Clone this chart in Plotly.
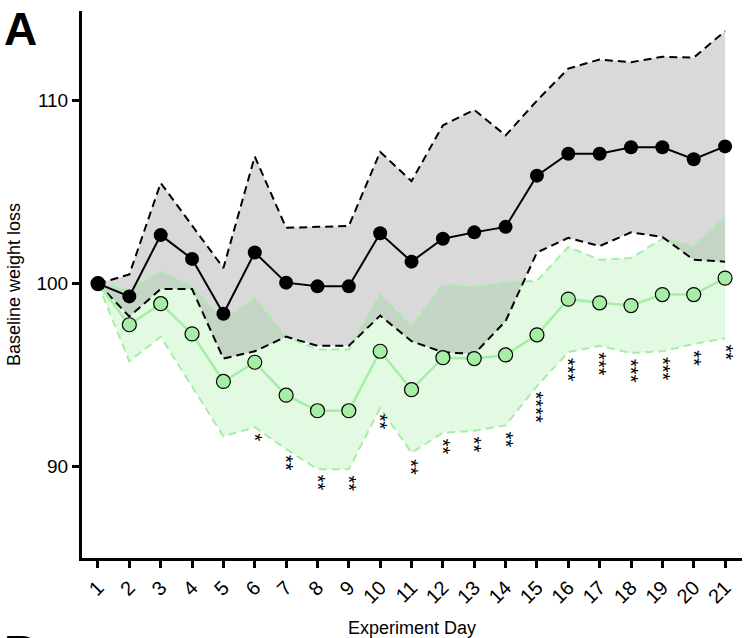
import plotly.graph_objects as go

days = list(range(1, 22))
day_labels = [str(d) for d in days]

ctrl_mean = [100, 99.3, 102.65, 101.35, 98.35, 101.7, 100.05, 99.85, 99.85, 102.75, 101.2,
             102.45, 102.8, 103.1, 105.9, 107.1, 107.1, 107.45, 107.45, 106.8, 107.5]
ctrl_upper = [100, 100.5, 105.5, 103.2, 100.85, 106.95, 103.05, 103.1, 103.15, 107.2, 105.6,
              108.65, 109.5, 108.1, 110.0, 111.75, 112.25, 112.1, 112.4, 112.35, 113.8]
ctrl_lower = [100, 98.2, 99.7, 99.7, 95.9, 96.3, 97.1, 96.6, 96.6, 98.25, 96.85,
              96.25, 96.15, 97.95, 101.7, 102.5, 102.05, 102.8, 102.55, 101.3, 101.2]

trt_mean = [100, 97.75, 98.9, 97.25, 94.65, 95.7, 93.9, 93.05, 93.05, 96.3, 94.2,
            95.95, 95.9, 96.1, 97.2, 99.15, 98.95, 98.8, 99.4, 99.4, 100.3]
trt_upper = [100, 99.65, 100.65, 99.85, 97.95, 99.2, 97.1, 96.4, 96.4, 99.4, 97.65,
             99.95, 99.8, 100.05, 100.15, 102.0, 101.3, 101.4, 102.45, 102.05, 103.6]
trt_lower = [100, 95.75, 97.1, 94.4, 91.65, 92.15, 90.95, 89.85, 89.85, 93.2, 90.75,
             91.85, 91.95, 92.25, 94.4, 96.25, 96.6, 96.2, 96.3, 96.7, 97.0]

significance = ["", "", "", "", "", "*", "**", "**", "**", "**", "**",
                "**", "**", "**", "****", "***", "***", "***", "***", "**", "**"]

y_ticks = [90, 100, 110]

GREEN_FILL = "#e2f9e2"
GRAY_FILL = "rgba(128,128,128,0.3)"
GREEN_LINE = "#a6eea6"
FONT = "Liberation Sans, Arial, sans-serif"

fig = go.Figure()

# green band (opaque)
fig.add_trace(go.Scatter(x=days, y=trt_lower, mode="lines", line=dict(width=0),
                         showlegend=False, hoverinfo="skip"))
fig.add_trace(go.Scatter(x=days, y=trt_upper, mode="lines", line=dict(width=0),
                         fill="tonexty", fillcolor=GREEN_FILL, showlegend=False, hoverinfo="skip"))
# gray band (translucent, on top)
fig.add_trace(go.Scatter(x=days, y=ctrl_lower, mode="lines", line=dict(width=0),
                         showlegend=False, hoverinfo="skip"))
fig.add_trace(go.Scatter(x=days, y=ctrl_upper, mode="lines", line=dict(width=0),
                         fill="tonexty", fillcolor=GRAY_FILL, showlegend=False, hoverinfo="skip"))

# dashed band edges
for ys in (trt_upper, trt_lower):
    fig.add_trace(go.Scatter(x=days, y=ys, mode="lines",
                             line=dict(color=GREEN_LINE, width=2, dash="8px,5px"),
                             showlegend=False, hoverinfo="skip"))
for ys in (ctrl_upper, ctrl_lower):
    fig.add_trace(go.Scatter(x=days, y=ys, mode="lines",
                             line=dict(color="black", width=2, dash="8px,5px"),
                             showlegend=False, hoverinfo="skip"))

# means
fig.add_trace(go.Scatter(x=days, y=trt_mean, mode="lines+markers",
                         line=dict(color=GREEN_LINE, width=2.5),
                         marker=dict(size=14, color=GREEN_LINE, line=dict(color="black", width=1.2)),
                         showlegend=False))
fig.add_trace(go.Scatter(x=days, y=ctrl_mean, mode="lines+markers",
                         line=dict(color="black", width=2),
                         marker=dict(size=14, color="black"),
                         showlegend=False))

# significance stars
for d, lo, s in zip(days, trt_lower, significance):
    if s:
        fig.add_annotation(x=d, y=lo, text=s, showarrow=False, textangle=90,
                           xanchor="center", yanchor="top", yshift=-4, xshift=0,
                           font=dict(family=FONT, size=20, color="black"))

# panel letters
fig.add_annotation(x=0, y=1.0, xref="paper", yref="paper", text="<b>A</b>", showarrow=False,
                   xanchor="left", yanchor="top", xshift=-80, yshift=10,
                   font=dict(family=FONT, size=46, color="black"))
fig.add_annotation(x=0, y=0, xref="paper", yref="paper", text="<b>B</b>", showarrow=False,
                   xanchor="left", yanchor="top", xshift=-80, yshift=-66,
                   font=dict(family=FONT, size=46, color="black"))

fig.update_layout(
    width=744, height=638,
    margin=dict(l=82, r=2, t=11, b=80),
    paper_bgcolor="white", plot_bgcolor="white",
    font=dict(family=FONT, color="black"),
    xaxis=dict(range=[0.49, 21.54], tickmode="array", tickvals=days, ticktext=day_labels,
               tickangle=-45, ticks="outside", ticklen=7, tickwidth=2.5, tickcolor="black",
               showline=True, linewidth=3, linecolor="black", showgrid=False, zeroline=False,
               tickfont=dict(size=20, family=FONT),
               title=dict(text="Experiment Day", font=dict(size=18, family=FONT), standoff=20),
               automargin=False),
    yaxis=dict(range=[85.0, 114.9], tickmode="array", tickvals=y_ticks,
               ticks="outside", ticklen=7, tickwidth=2.5, tickcolor="black",
               showline=True, linewidth=3, linecolor="black", showgrid=False, zeroline=False,
               tickfont=dict(size=19, family=FONT),
               title=dict(text="Baseline weight loss", font=dict(size=18, family=FONT), standoff=12),
               automargin=False),
)

fig.write_html("out.html")
